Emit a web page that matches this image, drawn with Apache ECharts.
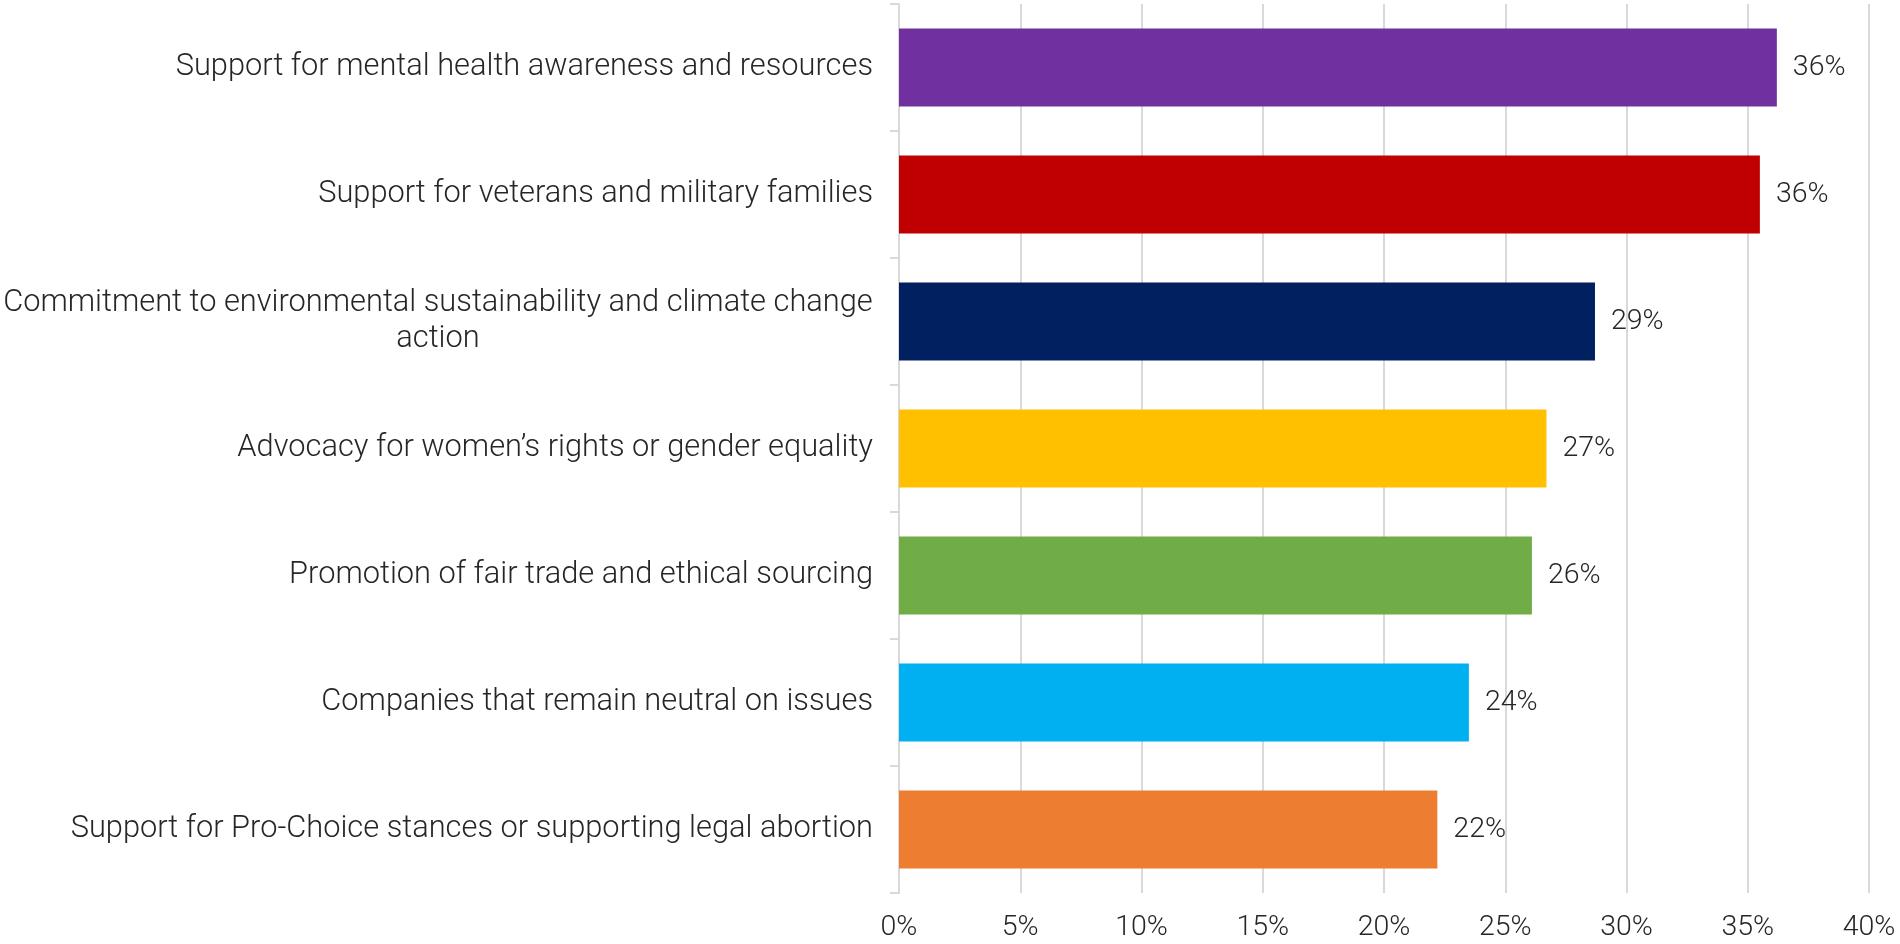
<!DOCTYPE html>
<html>
<head>
<meta charset="utf-8">
<script src="https://cdn.jsdelivr.net/npm/echarts@6/dist/echarts.min.js"></script>
<style>
  html, body { margin: 0; padding: 0; background: #fff; }
  #chart { width: 1900px; height: 944px; }
</style>
</head>
<body>
<div id="chart"></div>
<script>
// Survey answers, listed top to bottom
const categories = [
  'Support for mental health awareness and resources',
  'Support for veterans and military families',
  'Commitment to environmental sustainability and climate change\naction',
  'Advocacy for women\u2019s rights or gender equality',
  'Promotion of fair trade and ethical sourcing',
  'Companies that remain neutral on issues',
  'Support for Pro-Choice stances or supporting legal abortion'
];
// Share of respondents, in percent
const values = [36.2, 35.5, 28.7, 26.7, 26.1, 23.5, 22.2];
const barColors = ['#7030A0', '#C00000', '#002060', '#FFC000', '#70AD47', '#00B0F0', '#ED7D31'];
const xTicks = { min: 0, max: 40, interval: 5 };

const FONT = 'Roboto';
const CAT_SIZE = 30.8;
const NUM_SIZE = 28.5;
const FONT_WEIGHT = 300;
const TEXT = '#262626';

// Wrapped category labels: centre each line under the widest one
const ctx = document.createElement('canvas').getContext('2d');
ctx.font = FONT_WEIGHT + ' ' + CAT_SIZE + 'px ' + FONT;
function lineWidth(s) { return Math.ceil(ctx.measureText(s).width); }

const chart = echarts.init(document.getElementById('chart'), null, { renderer: 'canvas' });

const wrapRich = {};
function formatCategory(value) {
  const lines = value.split('\n');
  if (lines.length === 1) return value;
  const w = Math.max.apply(null, lines.map(lineWidth));
  wrapRich.w = { width: w, align: 'center', fontFamily: FONT, fontSize: CAT_SIZE, fontWeight: FONT_WEIGHT, color: TEXT, lineHeight: 36 };
  return lines.map(l => '{w|' + l + '}').join('\n');
}
// prime rich style before building the option
categories.forEach(formatCategory);

chart.setOption({
  animation: false,
  backgroundColor: '#ffffff',
  grid: { left: 898, right: 31, top: 4, bottom: 51, containLabel: false },
  xAxis: {
    type: 'value',
    min: xTicks.min,
    max: xTicks.max,
    interval: xTicks.interval,
    axisLine: { show: false },
    axisTick: { show: false },
    splitLine: { show: true, lineStyle: { color: '#d9d9d9', width: 2 } },
    axisLabel: {
      formatter: v => v + '%',
      fontFamily: FONT, fontSize: NUM_SIZE, fontWeight: FONT_WEIGHT, color: TEXT,
      margin: 20
    }
  },
  yAxis: {
    type: 'category',
    data: categories,
    inverse: true,
    axisLine: { show: true, lineStyle: { color: '#d9d9d9', width: 2 } },
    axisTick: { show: true, length: 9, lineStyle: { color: '#d9d9d9', width: 2 } },
    splitLine: { show: false },
    axisLabel: {
      formatter: formatCategory,
      rich: wrapRich,
      fontFamily: FONT, fontSize: CAT_SIZE, fontWeight: FONT_WEIGHT, color: TEXT,
      margin: 26,
      align: 'right'
    }
  },
  series: [{
    type: 'bar',
    data: values.map((v, i) => ({ value: v, itemStyle: { color: barColors[i] } })),
    barCategoryGap: '38.6%',
    label: {
      show: true,
      position: 'right',
      distance: 16,
      formatter: p => Math.round(p.value) + '%',
      fontFamily: FONT, fontSize: NUM_SIZE, fontWeight: FONT_WEIGHT, color: TEXT
    }
  }]
});
</script>
</body>
</html>
